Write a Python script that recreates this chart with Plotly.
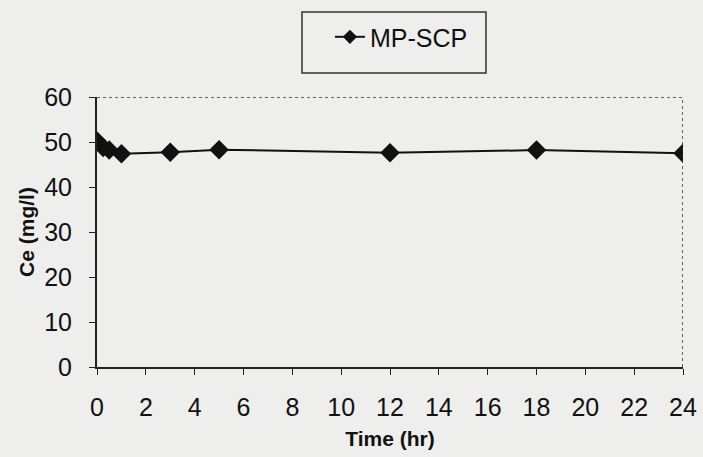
import plotly.graph_objects as go

# Equilibrium concentration of MP-SCP over time
time_hr = [0, 0.25, 0.5, 1, 3, 5, 12, 18, 24]
ce_mg_l = [50.2, 48.8, 48.2, 47.4, 47.7, 48.3, 47.6, 48.2, 47.5]
x_ticks = list(range(0, 25, 2))
y_ticks = list(range(0, 61, 10))

INK = "#111111"

fig = go.Figure()
fig.add_trace(go.Scatter(
    x=time_hr, y=ce_mg_l, mode="lines+markers", name="MP-SCP",
    line=dict(color=INK, width=2),
    marker=dict(symbol="diamond", size=15, color=INK),
    showlegend=False,
))
# legend entry with a smaller symbol
fig.add_trace(go.Scatter(
    x=[None], y=[None], mode="lines+markers", name="MP-SCP",
    line=dict(color=INK, width=2),
    marker=dict(symbol="diamond", size=11, color=INK),
))

# dotted frame on top and right
fig.add_shape(type="line", xref="x", yref="y", x0=0, x1=24, y0=60, y1=60,
              line=dict(color="#333333", width=1.5, dash="dot"))
fig.add_shape(type="line", xref="x", yref="y", x0=24, x1=24, y0=0, y1=60,
              line=dict(color="#333333", width=1.5, dash="dot"))
# legend frame
fig.add_shape(type="rect", xref="paper", yref="paper",
              x0=0.3498, x1=0.6638, y0=1.0889, y1=1.3148,
              line=dict(color="#333333", width=1.5))

fig.update_layout(
    width=703, height=457,
    margin=dict(l=97, r=20, t=97, b=90, autoexpand=False),
    paper_bgcolor="#eeeeec", plot_bgcolor="#eeeeec",
    font=dict(family="Liberation Sans, Arial", color=INK),
    showlegend=True,
    legend=dict(x=0.3975, y=1.222, xanchor="left", yanchor="middle",
                orientation="h", bgcolor="rgba(0,0,0,0)", borderwidth=0,
                font=dict(size=25)),
    xaxis=dict(range=[0, 24], tickvals=x_ticks, ticktext=[str(v) for v in x_ticks],
               tickangle=0,
               showgrid=False, zeroline=False, showline=True, linecolor="#222222",
               linewidth=2, ticks="outside", ticklen=6, tickcolor="#222222",
               tickfont=dict(size=25), ticklabelstandoff=11,
               title=dict(text="<b>Time (hr)</b>", font=dict(size=21), standoff=11)),
    yaxis=dict(range=[0, 60], tickvals=y_ticks, showgrid=False, zeroline=False,
               showline=True, linecolor="#222222", linewidth=2, ticks="outside",
               ticklen=6, tickcolor="#222222", tickfont=dict(size=25),
               ticklabelstandoff=12,
               title=dict(text="<b>Ce (mg/l)</b>", font=dict(size=21), standoff=4)),
)

fig.write_html("out.html")
